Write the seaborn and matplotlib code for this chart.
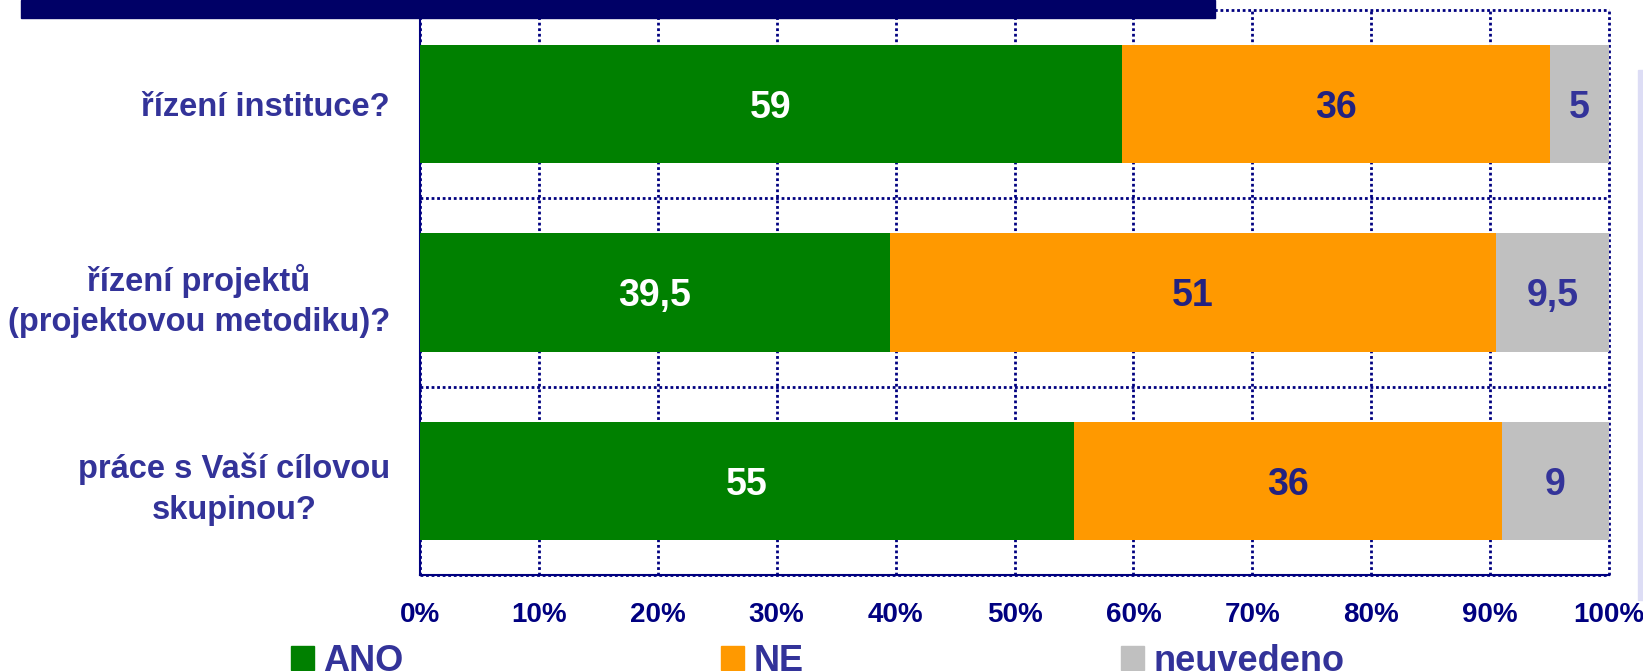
import matplotlib
matplotlib.use("Agg")
import matplotlib.pyplot as plt
import matplotlib.patches as mpatches
import pandas as pd
import seaborn as sns

# questions (top to bottom) and answer shares in %
questions = ["řízení instituce?",
             "řízení projektů\n(projektovou metodiku)?",
             "práce s Vaší cílovou\nskupinou?"]
ano = [59, 39.5, 55]
ne = [36, 51, 36]
neuvedeno = [5, 9.5, 9]

answers = ["ANO", "NE", "neuvedeno"]
colors = ["#008000", "#FF9900", "#C0C0C0"]
text_colors = ["white", "#222280", "#333399"]
x_ticks = [0, 10, 20, 30, 40, 50, 60, 70, 80, 90, 100]
x_labels = ["0%", "10%", "20%", "30%", "40%", "50%", "60%", "70%", "80%", "90%", "100%"]

NAVY = "#000080"
LABEL = "#333399"
DOTS = (0, (1, 1))

sns.set_style("white")
plt.rcParams["font.family"] = ["Liberation Sans", "DejaVu Sans"]
plt.rcParams["font.weight"] = "bold"

df = pd.DataFrame({"question": questions, "ANO": ano, "NE": ne, "neuvedeno": neuvedeno})
cum = df[answers].cumsum(axis=1)

fig = plt.figure(figsize=(16.43, 6.71), dpi=100)
ax = fig.add_axes([420 / 1643, 1 - 575 / 671, (1609 - 420) / 1643, (575 - 10) / 671])

# stacked bars drawn as overlapping cumulative layers
for ans, col in reversed(list(zip(answers, colors))):
    sns.barplot(x=cum[ans], y=df["question"], color=col, width=0.63, orient="h",
                saturation=1, errorbar=None, linewidth=0, ax=ax, zorder=3)

# value labels in the middle of each segment
for i in range(len(questions)):
    for ans, tc in zip(answers, text_colors):
        v = df.loc[i, ans]
        ax.text(cum.loc[i, ans] - v / 2, i, f"{v:g}".replace(".", ","),
                ha="center", va="center_baseline", color=tc, fontsize=27,
                fontweight="bold", zorder=4)

ax.set_xlim(0, 100)
ax.set_ylim(2.5, -0.5)
ax.set_xticks(x_ticks, labels=x_labels)
ax.set_yticks([-0.5, 0.5, 1.5, 2.5], labels=[])
ax.set_yticks([0, 1, 2], labels=questions, minor=True)
ax.set_xlabel("")
ax.set_ylabel("")

ax.tick_params(axis="x", which="major", direction="out", length=6.5, width=1.2,
               color=NAVY, labelcolor=NAVY, labelsize=20, pad=13)
ax.tick_params(axis="y", which="major", direction="out", length=8, width=1.2, color=NAVY)
ax.tick_params(axis="y", which="minor", length=0, pad=21.6, labelsize=23.5, labelcolor=LABEL)
for lbl in ax.get_yticklabels(minor=True):
    lbl.set_multialignment("center")
    lbl.set_linespacing(1.4)
    lbl.set_fontweight("bold")
for lbl in ax.get_xticklabels():
    lbl.set_fontweight("bold")

ax.set_axisbelow(True)
ax.grid(True, which="major", axis="both", color=NAVY, linestyle=DOTS, linewidth=2)
for gl in ax.xaxis.get_gridlines() + ax.yaxis.get_gridlines():
    gl.set_clip_on(False)

for side in ["left", "bottom"]:
    ax.spines[side].set_color(NAVY)
    ax.spines[side].set_linewidth(1.5)
for side in ["top", "right"]:
    ax.spines[side].set_visible(False)

# title bar (text cut off at the top) and side strip
fig.add_artist(mpatches.Rectangle((21 / 1643, 1 - 18 / 671), (1215 - 21) / 1643, 18 / 671,
                                  transform=fig.transFigure, color="#000066", zorder=5))
fig.add_artist(mpatches.Rectangle((1638 / 1643, 1 - 600 / 671), 5 / 1643, (600 - 70) / 671,
                                  transform=fig.transFigure, color="#DDDDF5", zorder=0))

handles = [mpatches.Patch(color=c, label=a) for a, c in zip(answers, colors)]
leg = fig.legend(handles=handles, loc="lower left", bbox_to_anchor=(291 / 1643, -0.012),
                 ncol=3, frameon=False, prop={"weight": "bold", "size": 26},
                 handlelength=0.64, handleheight=0.64, handletextpad=0.25,
                 columnspacing=8.8, borderpad=0, borderaxespad=0)
for t in leg.get_texts():
    t.set_color(LABEL)

fig.savefig("out.png", dpi=100)
